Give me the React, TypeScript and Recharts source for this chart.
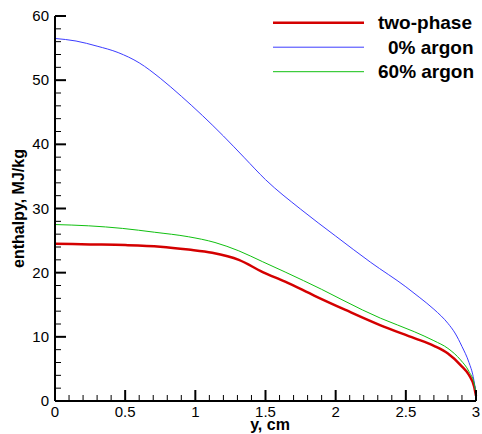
import React from "react";
import { LineChart, Line, XAxis, YAxis, Legend } from "recharts";

// two-phase
const twoPhaseX = [0, 0.25, 0.5, 0.75, 0.95, 1.12, 1.31, 1.48, 1.64, 1.85, 2.07, 2.32, 2.56, 2.7, 2.8, 2.89, 2.95, 2.986, 3.0];
const twoPhaseY = [24.5, 24.4, 24.3, 24.05, 23.6, 23.1, 22.0, 20.1, 18.6, 16.4, 14.2, 11.8, 9.8, 8.6, 7.4, 5.6, 4.05, 2.3, 0.8];
// 0% argon
const argon0X = [0, 0.15, 0.3, 0.45, 0.6, 0.75, 0.9, 1.05, 1.2, 1.35, 1.5, 1.75, 2.0, 2.25, 2.5, 2.6, 2.7, 2.8, 2.85, 2.9, 2.95, 2.98, 3.0];
const argon0Y = [56.5, 56.1, 55.3, 54.3, 52.7, 50.3, 47.5, 44.5, 41.3, 37.9, 34.5, 29.9, 25.7, 21.6, 17.8, 16.1, 14.3, 12.1, 10.6, 8.5, 6.0, 3.8, 1.2];
// 60% argon
const argon60X = [0, 0.24, 0.48, 0.71, 0.95, 1.14, 1.31, 1.48, 1.64, 1.9, 2.19, 2.32, 2.56, 2.7, 2.8, 2.89, 2.95, 2.986, 3.0];
const argon60Y = [27.5, 27.3, 26.9, 26.3, 25.6, 24.7, 23.4, 21.7, 20.1, 17.4, 14.2, 12.9, 10.8, 9.4, 8.2, 6.4, 4.6, 2.8, 1.2];

const seriesNames = ["two-phase", "0% argon", "60% argon"];

const xTicks = [0, 0.1, 0.2, 0.3, 0.4, 0.5, 0.6, 0.7, 0.8, 0.9, 1, 1.1, 1.2, 1.3, 1.4, 1.5, 1.6, 1.7, 1.8, 1.9, 2, 2.1, 2.2, 2.3, 2.4, 2.5, 2.6, 2.7, 2.8, 2.9, 3];
const xMajor = [0, 0.5, 1, 1.5, 2, 2.5, 3];
const yTicks = [0, 2, 4, 6, 8, 10, 12, 14, 16, 18, 20, 22, 24, 26, 28, 30, 32, 34, 36, 38, 40, 42, 44, 46, 48, 50, 52, 54, 56, 58, 60];
const yMajor = [0, 10, 20, 30, 40, 50, 60];

const toPoints = (xs: number[], ys: number[]) => xs.map((x, i) => ({ x, v: ys[i] }));
const twoPhaseData = toPoints(twoPhaseX, twoPhaseY);
const argon0Data = toPoints(argon0X, argon0Y);
const argon60Data = toPoints(argon60X, argon60Y);

const FONT = "'Liberation Sans', Arial, Helvetica, sans-serif";

const isMajor = (v: number, list: number[]) => list.some((m) => Math.abs(m - v) < 1e-6);

const XTick = (props: any) => {
  const { x, y, payload } = props;
  const major = isMajor(payload.value, xMajor);
  return (
    <g>
      <line x1={x} x2={x} y1={y} y2={y - (major ? 11 : 6)} stroke="#000" strokeWidth={major ? 2 : 1} />
      {major && (
        <text x={x} y={y + 16} textAnchor="middle" fontSize={15} fontFamily={FONT} fill="#000">
          {String(payload.value)}
        </text>
      )}
    </g>
  );
};

const YTick = (props: any) => {
  const { x, y, payload } = props;
  const major = isMajor(payload.value, yMajor);
  return (
    <g>
      <line x1={x} x2={x + (major ? 11 : 6)} y1={y} y2={y} stroke="#000" strokeWidth={major ? 2 : 1} />
      {major && (
        <text x={x - 6} y={y + 5} textAnchor="end" fontSize={15} fontFamily={FONT} fill="#000">
          {String(payload.value)}
        </text>
      )}
    </g>
  );
};

const legendTextX = [378, 388, 378];

const renderLegend = (props: any) => {
  const payload = props.payload || [];
  return (
    <svg width={482} height={100} style={{ display: "block" }}>
      {seriesNames.map((name, i) => {
        const entry = payload.find((p: any) => p.value === name);
        if (!entry) return null;
        const ly = 22.7 + i * 24.5;
        const sw = entry.payload && entry.payload.strokeWidth ? entry.payload.strokeWidth : 1;
        return (
          <g key={name}>
            <line x1={273} x2={364} y1={ly} y2={ly} stroke={entry.color} strokeWidth={sw} />
            <text x={legendTextX[i]} y={ly + 6.5} fontSize={19} fontWeight="bold" fontFamily={FONT} fill="#000">
              {entry.value}
            </text>
          </g>
        );
      })}
    </svg>
  );
};

export default function App() {
  return (
    <div style={{ position: "absolute", left: 0, top: 0, width: 482, height: 434, background: "#fff" }}>
      <LineChart width={482} height={434} margin={{ top: 16, right: 6, left: 0, bottom: 0 }}>
        <XAxis
          dataKey="x"
          type="number"
          domain={[0, 3]}
          ticks={xTicks}
          interval={0}
          tick={<XTick />}
          tickLine={false}
          tickSize={0}
          tickMargin={0}
          height={33}
          allowDuplicatedCategory={false}
          axisLine={{ stroke: "#000", strokeWidth: 2 }}
          label={{
            content: () => (
              <text x={270} y={430} textAnchor="middle" fontSize={16} fontWeight="bold" fontFamily={FONT} fill="#000">
                y, cm
              </text>
            ),
          }}
        />
        <YAxis
          type="number"
          dataKey="v"
          domain={[0, 60]}
          ticks={yTicks}
          interval={0}
          tick={<YTick />}
          tickLine={false}
          tickSize={0}
          tickMargin={0}
          width={55}
          axisLine={{ stroke: "#000", strokeWidth: 2 }}
          label={{
            content: () => (
              <text
                x={0}
                y={0}
                transform="translate(24, 208.5) rotate(-90)"
                textAnchor="middle"
                fontSize={16}
                fontWeight="bold"
                fontFamily={FONT}
                fill="#000"
              >
                enthalpy, MJ/kg
              </text>
            ),
          }}
        />
        <Legend
          layout="horizontal"
          verticalAlign="middle"
          align="center"
          content={renderLegend}
          wrapperStyle={{ position: "absolute", left: 0, top: 0, width: 482, height: 100 }}
        />
        <Line
          data={twoPhaseData}
          type="monotone"
          dataKey="v"
          name={seriesNames[0]}
          stroke="#d40000"
          strokeWidth={2.5}
          dot={false}
          isAnimationActive={false}
        />
        <Line
          data={argon0Data}
          type="monotone"
          dataKey="v"
          name={seriesNames[1]}
          stroke="#3c3cff"
          strokeWidth={1}
          dot={false}
          isAnimationActive={false}
        />
        <Line
          data={argon60Data}
          type="monotone"
          dataKey="v"
          name={seriesNames[2]}
          stroke="#10c010"
          strokeWidth={1}
          dot={false}
          isAnimationActive={false}
        />
      </LineChart>
    </div>
  );
}
